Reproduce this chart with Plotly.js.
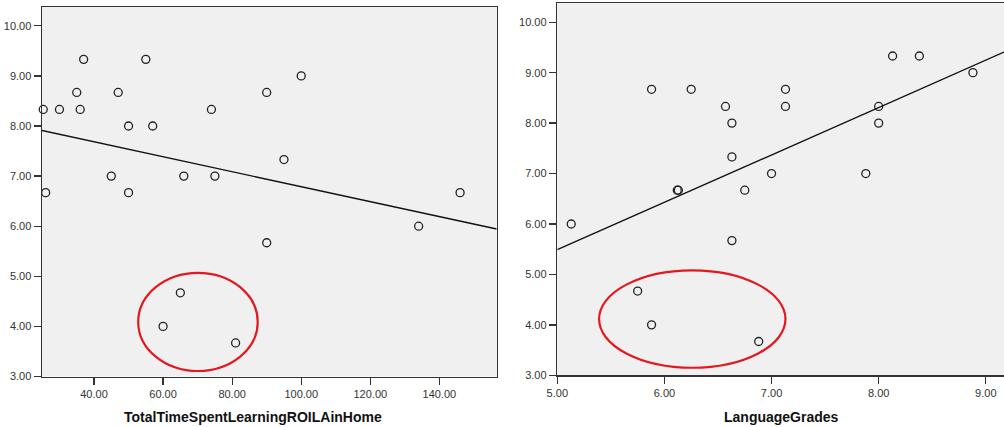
<!DOCTYPE html>
<html><head><meta charset="utf-8">
<script src="https://cdn.plot.ly/plotly-3.0.1.min.js"></script>
<style>html,body{margin:0;padding:0;background:#fff}#chart{width:1004px;height:427px}</style>
</head><body><div id="chart"></div>
<script>
// Left panel: time spent learning vs score
const timeSpent  = [25.3, 30, 35, 36, 37, 26, 45, 47, 50, 50, 55, 57, 66, 74, 75, 90, 95, 100, 90, 65, 60, 81, 134, 146];
const timeScores = [8.33, 8.33, 8.67, 8.33, 9.33, 6.67, 7, 8.67, 8, 6.67, 9.33, 8, 7, 8.33, 7, 8.67, 7.33, 9, 5.67, 4.67, 4, 3.67, 6, 6.67];
// Right panel: language grades vs score
const languageGrades = [5.13, 5.88, 6.25, 6.57, 6.63, 6.63, 6.12, 6.13, 6.75, 6.63, 5.75, 5.88, 6.88, 8.13, 8.38, 8.88, 7.13, 7.13, 8.0, 8.0, 7.0, 7.88];
const languageScores = [6, 8.67, 8.67, 8.33, 8, 7.33, 6.67, 6.67, 6.67, 5.67, 4.67, 4, 3.67, 9.33, 9.33, 9, 8.67, 8.33, 8.33, 8, 7, 7];

const timeTicks  = [40, 60, 80, 100, 120, 140];
const gradeTicks = [5, 6, 7, 8, 9];
const scoreTicks = [3, 4, 5, 6, 7, 8, 9, 10];
const xTitles = ['TotalTimeSpentLearningROILAinHome', 'LanguageGrades'];

const timeRange = [24.94, 156.6];
const gradeRange = [5, 9.17];
const scoreRange = [3, 10.375];

function fit(xs, ys, range) {
  const n = xs.length;
  const mx = xs.reduce((a, b) => a + b, 0) / n;
  const my = ys.reduce((a, b) => a + b, 0) / n;
  let sxy = 0, sxx = 0;
  for (let i = 0; i < n; i++) { sxy += (xs[i] - mx) * (ys[i] - my); sxx += (xs[i] - mx) ** 2; }
  const b = sxy / sxx, a = my - b * mx;
  return { x: range, y: range.map(v => a + b * v) };
}

const marker = { symbol: 'circle-open', size: 8, color: '#222', line: { width: 1.3, color: '#222' } };
const f1 = fit(timeSpent, timeScores, timeRange);
const f2 = fit(languageGrades, languageScores, gradeRange);

const data = [
  { x: timeSpent, y: timeScores, type: 'scatter', mode: 'markers', marker: marker, xaxis: 'x', yaxis: 'y', cliponaxis: false },
  { x: f1.x, y: f1.y, type: 'scatter', mode: 'lines', line: { color: '#111', width: 1.4 }, xaxis: 'x', yaxis: 'y' },
  { x: languageGrades, y: languageScores, type: 'scatter', mode: 'markers', marker: marker, xaxis: 'x2', yaxis: 'y2', cliponaxis: false },
  { x: f2.x, y: f2.y, type: 'scatter', mode: 'lines', line: { color: '#111', width: 1.4 }, xaxis: 'x2', yaxis: 'y2' }
];

const tickFont = { family: 'Liberation Sans, Arial, sans-serif', size: 11, color: '#333' };
const axBase = {
  showgrid: false, zeroline: false, showline: true, linecolor: '#333', linewidth: 1.5,
  ticks: 'outside', ticklen: 7, tickwidth: 1.3, tickcolor: '#333', tickfont: tickFont,
  tickformat: '.2f', tickmode: 'array', automargin: false, fixedrange: true
};

const layout = {
  width: 1004, height: 427,
  margin: { l: 0, r: 0, t: 0, b: 0 },
  paper_bgcolor: '#fff', plot_bgcolor: '#f0f0f0',
  showlegend: false,
  xaxis: Object.assign({}, axBase, { domain: [42 / 1004, 496.7 / 1004], range: timeRange, tickvals: timeTicks, mirror: true, anchor: 'y' }),
  yaxis: Object.assign({}, axBase, { domain: [1 - 376.5 / 427, 1 - 7 / 427], range: scoreRange, tickvals: scoreTicks, mirror: true, anchor: 'x' }),
  xaxis2: Object.assign({}, axBase, { domain: [557.3 / 1004, 1], range: gradeRange, tickvals: gradeTicks, mirror: true, anchor: 'y2' }),
  yaxis2: Object.assign({}, axBase, { domain: [1 - 375.3 / 427, 1 - 3.3 / 427], range: scoreRange, tickvals: scoreTicks, mirror: true, anchor: 'x2' }),
  shapes: [
    { type: 'circle', xref: 'x', yref: 'y', x0: 52.8, x1: 87.4, y0: 3.11, y1: 5.07, line: { color: '#e3191f', width: 2.2 } },
    { type: 'circle', xref: 'x2', yref: 'y2', x0: 5.39, x1: 7.13, y0: 3.15, y1: 5.08, line: { color: '#e3191f', width: 2.2 } }
  ],
  annotations: [
    { text: xTitles[0], xref: 'paper', yref: 'paper', x: 253 / 1004, y: 1 - 416.7 / 427, showarrow: false, xanchor: 'center', yanchor: 'middle',
      font: { family: 'Liberation Sans, Arial, sans-serif', size: 14, color: '#111', weight: 'bold' } },
    { text: xTitles[1], xref: 'paper', yref: 'paper', x: 781.5 / 1004, y: 1 - 416.7 / 427, showarrow: false, xanchor: 'center', yanchor: 'middle',
      font: { family: 'Liberation Sans, Arial, sans-serif', size: 14, color: '#111', weight: 'bold' } }
  ]
};

Plotly.newPlot('chart', data, layout, { displayModeBar: false, staticPlot: true });
</script>
</body></html>
